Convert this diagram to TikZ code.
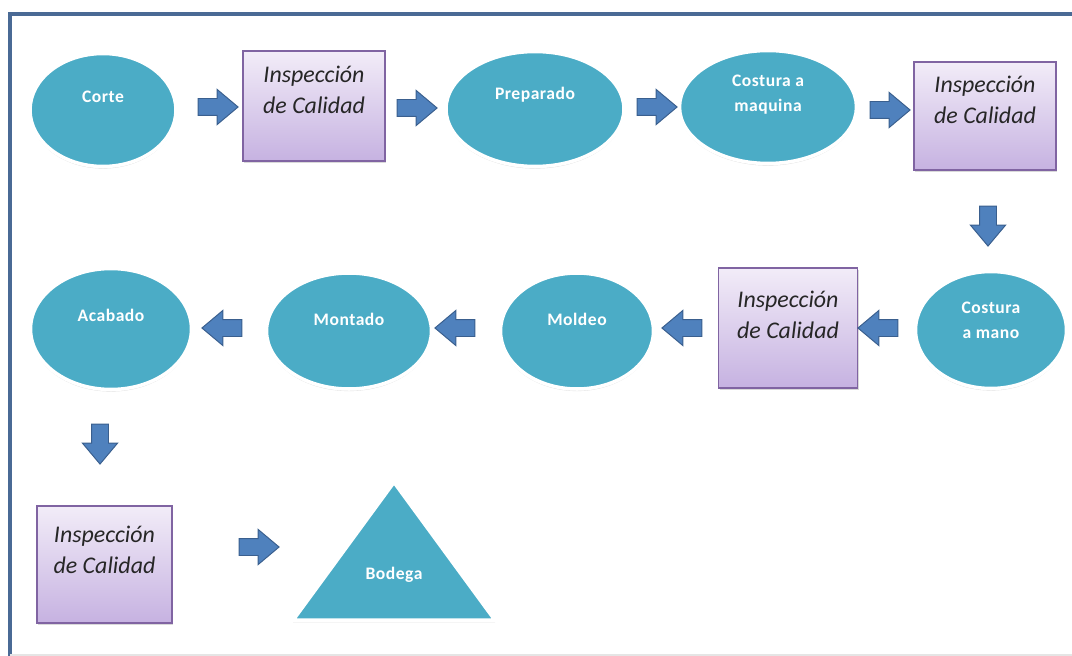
\documentclass[tikz,border=0pt]{standalone}
\usepackage{fontspec}
\setmainfont{Carlito}
\usepackage{tikz}
\usetikzlibrary{shapes,shapes.arrows,shadows}

\definecolor{tealfill}{HTML}{4BACC6}
\definecolor{arrfill}{HTML}{4F81BD}
\definecolor{arredge}{HTML}{3A5F8E}
\definecolor{boxedge}{HTML}{8064A2}
\definecolor{boxtop}{HTML}{F2ECF8}
\definecolor{boxbot}{HTML}{C6B2E1}
\definecolor{frameblue}{HTML}{4A6A95}

\newlength\pxlen
\setlength\pxlen{0.025cm}
\newcommand{\lift}[2]{\raisebox{#1\pxlen}[0pt][0pt]{\begin{tabular}{@{}c@{}}#2\end{tabular}}}

\begin{document}
\begin{tikzpicture}[x=0.025cm, y=-0.025cm,
  wh/.style 2 args={minimum width=#1\pxlen, minimum height=#2\pxlen},
  proc/.style={ellipse, fill=tealfill, draw=white, line width=2.5pt, inner sep=0pt,
    text=white, font=\bfseries\fontsize{12.5}{18}\selectfont\addfontfeatures{LetterSpace=3},
    drop shadow={shadow xshift=0pt, shadow yshift=-1.5pt, opacity=.25}},
  insp/.style={rectangle, draw=boxedge, line width=1pt, top color=boxtop, bottom color=boxbot,
    inner sep=0pt, text=black!85, font=\itshape\fontsize{17}{22}\selectfont,
    drop shadow={shadow xshift=1pt, shadow yshift=-1.5pt, opacity=.3}},
  flecha/.style={single arrow, fill=arrfill, draw=arredge, line width=.7pt,
    inner sep=8\pxlen, single arrow head extend=9\pxlen, single arrow tip angle=80,
    minimum height=40\pxlen, minimum width=34\pxlen},
  almacen/.style={isosceles triangle, isosceles triangle stretches, shape border rotate=90,
    fill=tealfill, draw=white, line width=2.5pt, inner sep=0pt,
    text=white, font=\bfseries\fontsize{12.5}{18}\selectfont\addfontfeatures{LetterSpace=3},
    drop shadow={shadow xshift=0pt, shadow yshift=-1.5pt, opacity=.25}}]
\useasboundingbox (0,0) rectangle (1072,656);
\draw[frameblue, line width=2.2pt] (10,660) -- (10,14) -- (1076,14);
\draw[black!10, line width=1pt] (10,655) -- (1076,655);

% first row
\node[proc, wh={146}{113}] (corte) at (103,110) {\lift{8}{Corte}};
\node[insp, wh={142}{110}] (insp1) at (314,106) {\lift{8.5}{Inspección\\de Calidad}};
\node[proc, wh={178}{115}] (prep) at (535,109) {\lift{10}{Preparado}};
\node[proc, wh={177}{113}] (maq) at (768,107) {\lift{9}{Costura a\\maquina}};
\node[insp, wh={142}{108}] (insp2) at (985,116) {\lift{8}{Inspección\\de Calidad}};
\node[flecha] (f1) at (213,107) {};
\node[flecha] (f2) at (412,108) {};
\node[flecha] (f3) at (652,107) {};
\node[flecha] (f4) at (885,110) {};
\node[flecha, shape border rotate=270] (f5) at (988,221) {};

% second row
\node[proc, wh={151}{117}] (mano) at (991,330) {\lift{5}{Costura\\a mano}};
\node[insp, wh={139}{120}] (insp3) at (788,328) {\lift{5.5}{Inspección\\de Calidad}};
\node[proc, wh={153}{116}] (moldeo) at (577,331) {\lift{6}{Moldeo}};
\node[proc, wh={165}{116}] (montado) at (349,331) {\lift{6}{Montado}};
\node[proc, wh={161}{121}] (acabado) at (111,329) {\lift{8}{Acabado}};
\foreach \x/\n in {883/f6, 687/f7, 460/f8, 227/f9}
  \node[flecha, shape border rotate=180] (\n) at (\x,328) {};
\node[flecha, shape border rotate=270] (f10) at (100,439) {};

% last row
\node[insp, wh={135}{117}] (insp4) at (104.5,564.5) {\lift{6.5}{Inspección\\de Calidad}};
\node[flecha] (f11) at (254,547) {};
\node[almacen, wh={202}{138}, anchor=lower side] (bodega) at (394,622) {\lift{5}{Bodega}};
\end{tikzpicture}
\end{document}
